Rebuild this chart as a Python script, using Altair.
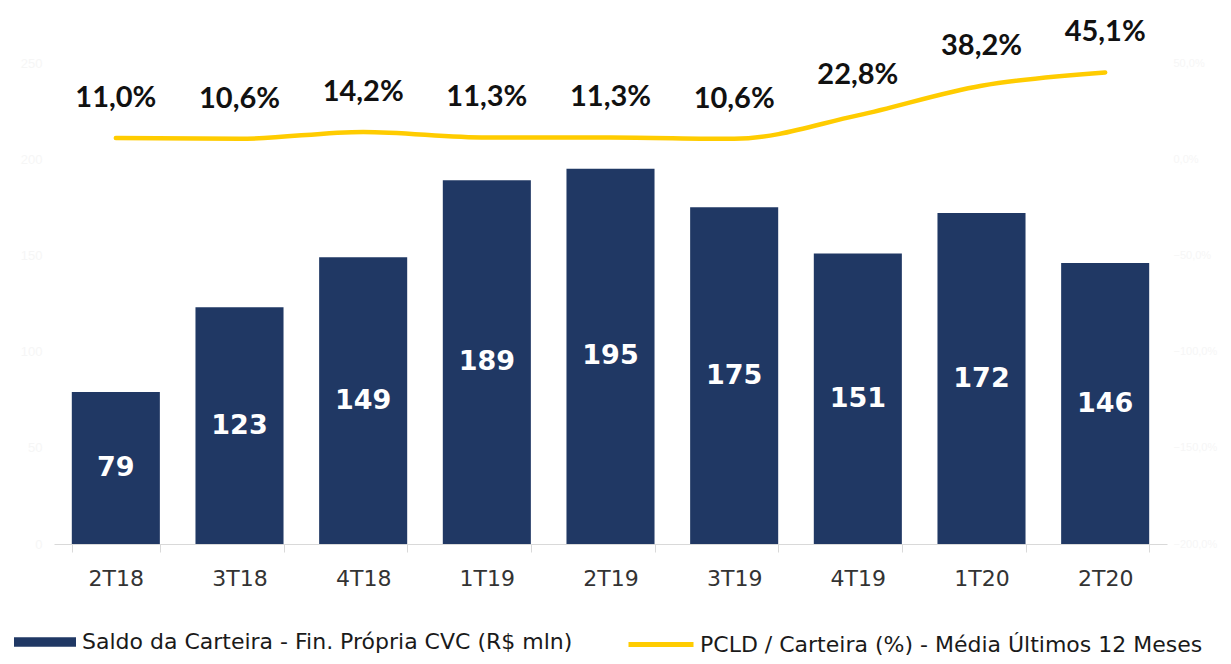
import altair as alt
import pandas as pd

quarters = ["2T18", "3T18", "4T18", "1T19", "2T19", "3T19", "4T19", "1T20", "2T20"]
saldo = [79, 123, 149, 189, 195, 175, 151, 172, 146]
pcld = [11.0, 10.6, 14.2, 11.3, 11.3, 10.6, 22.8, 38.2, 45.1]

bar_series = "Saldo da Carteira - Fin. Própria CVC (R$ mln)"
line_series = "PCLD / Carteira (%) - Média Últimos 12 Meses"

NAVY = "#203864"
YELLOW = "#FFCC00"
FAINT = "#f6f6f6"

df = pd.DataFrame({
    "q": quarters,
    "saldo": saldo,
    "pcld": pcld,
})
df["mid"] = df["saldo"] / 2
df["pcld_lbl"] = [f"{v:.1f}".replace(".", ",") + "%" for v in pcld]
df["bar_s"] = bar_series
df["line_s"] = line_series

x_enc = alt.X(
    "q:N", sort=quarters, title=None,
    scale=alt.Scale(paddingInner=0.288, paddingOuter=0.144),
    axis=alt.Axis(
        labelAngle=0, labelFont="DejaVu Sans", labelFontSize=22, labelColor="#333333",
        domainColor="#d9d9d9", tickColor="#d9d9d9", tickSize=8, tickBand="extent",
        labelPadding=16, domainWidth=1,
    ),
)

yl = alt.Scale(domain=[0, 250], nice=False, zero=True)
yr = alt.Scale(domain=[-200, 50], nice=False, zero=False)

base = alt.Chart(df)

bars = base.mark_bar(color=NAVY).encode(
    x=x_enc,
    y=alt.Y("saldo:Q", scale=yl, title=None,
            axis=alt.Axis(values=[0, 50, 100, 150, 200, 250], grid=False, domain=False,
                          ticks=False, labelColor=FAINT, labelFontSize=13,
                          labelPadding=12, labelFont="Liberation Sans")),
    color=alt.Color("bar_s:N", scale=alt.Scale(domain=[bar_series], range=[NAVY]),
                    legend=alt.Legend(
                        title=None, orient="none", legendX=-40, legendY=548,
                        symbolType="M-1,-0.15L1,-0.15L1,0.15L-1,0.15Z", symbolSize=3844,
                        symbolStrokeWidth=0, labelFont="DejaVu Sans", labelFontSize=22,
                        labelColor="#1a1a1a", labelOffset=6, labelLimit=800, padding=0,
                    )),
)

bar_text = base.mark_text(
    color="white", font="DejaVu Sans", fontWeight="bold", fontSize=27, baseline="middle"
).encode(
    x=alt.X("q:N", sort=quarters),
    y=alt.Y("mid:Q", scale=yl),
    text="saldo:Q",
)

left = alt.layer(bars, bar_text)

line = base.mark_line(strokeWidth=4.5, interpolate="monotone", strokeCap="round").encode(
    x=alt.X("q:N", sort=quarters),
    y=alt.Y("pcld:Q", scale=yr, title=None,
            axis=alt.Axis(orient="right", values=[-200, -150, -100, -50, 0, 50], grid=False,
                          domain=False, ticks=False, labelColor=FAINT, labelFontSize=11,
                          labelPadding=6, labelFont="Liberation Sans",
                          labelExpr="replace(format(datum.value, '.1f'), '.', ',') + '%'")),
    stroke=alt.Stroke("line_s:N", scale=alt.Scale(domain=[line_series], range=[YELLOW]),
                      legend=alt.Legend(
                          title=None, orient="none", legendX=572, legendY=546.5,
                          symbolType="stroke", symbolSize=4225, symbolStrokeWidth=5,
                          labelFont="DejaVu Sans", labelFontSize=22, labelColor="#1a1a1a",
                          labelOffset=4, labelLimit=800, padding=0,
                      )),
)

line_text = base.mark_text(
    color="#111111", font="Lato", fontWeight="bold", fontSize=29, baseline="middle", dy=-40
).encode(
    x=alt.X("q:N", sort=quarters),
    y=alt.Y("pcld:Q", scale=yr),
    text="pcld_lbl:N",
)

right = alt.layer(line, line_text)

chart = alt.layer(left, right).resolve_scale(
    y="independent", color="independent", stroke="independent"
).properties(
    width=1113, height=481,
    autosize=alt.AutoSizeParams(type="none"),
    padding={"left": 46, "top": 55, "right": 56, "bottom": 112},
).configure(background="white").configure_view(stroke=None)

chart.save("out.html", embed_options={"renderer": "svg", "actions": False})
